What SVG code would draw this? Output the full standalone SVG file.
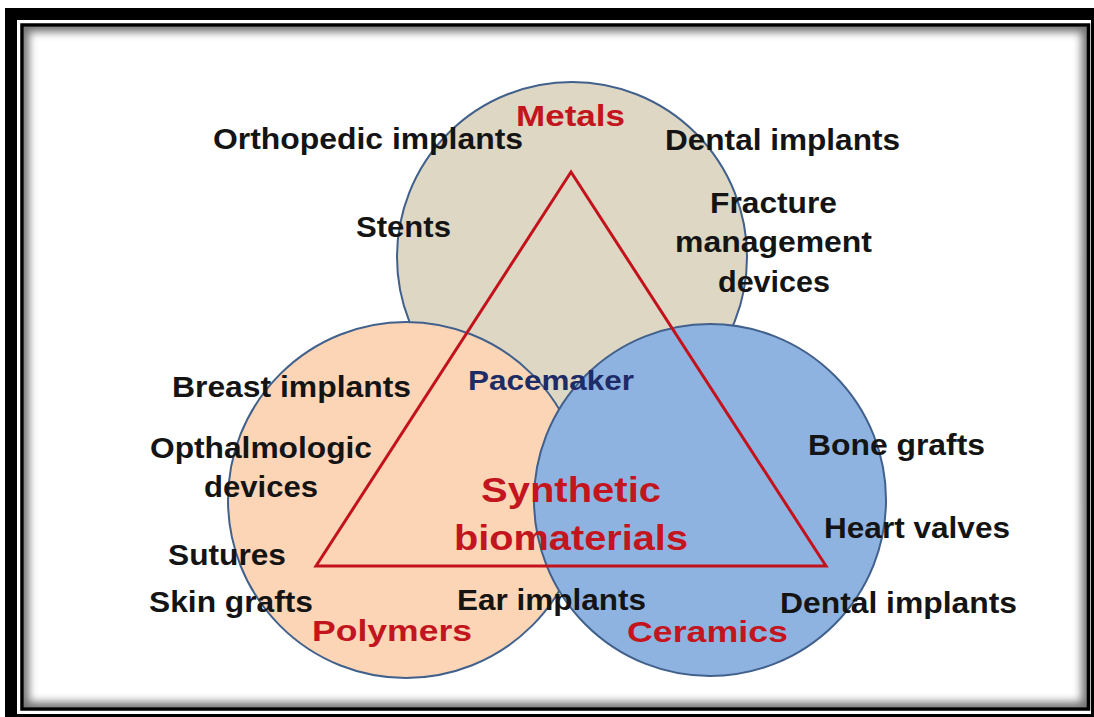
<svg xmlns="http://www.w3.org/2000/svg" width="1094" height="717" viewBox="0 0 1094 717">
<defs>
<style>
.t{font-family:"Liberation Sans",Arial,sans-serif;font-weight:bold;font-size:29px;fill:#141414}
.r{font-family:"Liberation Sans",Arial,sans-serif;font-weight:bold;font-size:30px;fill:#c3151d}
.big{font-size:35px}
.navy{fill:#1d2b66;font-size:28px}
.circ{stroke:#41618c;stroke-width:2}
</style>
<clipPath id="inner"><rect x="23.5" y="26.5" width="1063.5" height="681"/></clipPath>
<filter id="blur" x="-5%" y="-5%" width="110%" height="110%"><feGaussianBlur stdDeviation="4"/></filter>
</defs>
<rect x="0" y="0" width="1094" height="717" fill="#ffffff"/>
<!-- outer frame -->
<rect x="5" y="8" width="1200" height="800" fill="#000"/>
<rect x="17" y="20" width="1074" height="694" fill="#fff"/>
<rect x="22" y="25" width="1066.5" height="684" fill="#fff"/>
<g clip-path="url(#inner)">
<rect x="22" y="25" width="1066.5" height="684" fill="none" stroke="#000" stroke-width="14" opacity="0.55" filter="url(#blur)"/>
</g>
<rect x="22" y="25" width="1066.5" height="684" fill="none" stroke="#000" stroke-width="3.5"/>

<g id="metals"><circle class="circ" cx="572" cy="257" r="175" fill="#ddd7c4"/></g>
<g id="polymers"><circle class="circ" cx="406" cy="500" r="178" fill="#fbd5b6"/></g>
<g id="ceramics"><circle class="circ" cx="710" cy="500" r="176" fill="#8fb3e1"/></g>

<g id="connectors">
<polygon points="571,172 316,566 826,566" fill="none" stroke="#c3121c" stroke-width="3"/>
</g>

<g id="metals-labels">
<text class="r" x="516" y="126" textLength="109" lengthAdjust="spacingAndGlyphs">Metals</text>
<text class="t" x="213" y="149" textLength="310" lengthAdjust="spacingAndGlyphs">Orthopedic implants</text>
<text class="t" x="665" y="150" textLength="235" lengthAdjust="spacingAndGlyphs">Dental implants</text>
<text class="t" x="356" y="237" textLength="95" lengthAdjust="spacingAndGlyphs">Stents</text>
<text class="t" x="710" y="213" textLength="127" lengthAdjust="spacingAndGlyphs">Fracture</text>
<text class="t" x="675" y="252" textLength="197" lengthAdjust="spacingAndGlyphs">management</text>
<text class="t" x="718" y="292" textLength="112" lengthAdjust="spacingAndGlyphs">devices</text>
<text class="t navy" x="468" y="390" textLength="166" lengthAdjust="spacingAndGlyphs">Pacemaker</text>
</g>
<g id="polymers-labels">
<text class="t" x="172" y="397" textLength="239" lengthAdjust="spacingAndGlyphs">Breast implants</text>
<text class="t" x="150" y="458" textLength="222" lengthAdjust="spacingAndGlyphs">Opthalmologic</text>
<text class="t" x="204" y="497" textLength="114" lengthAdjust="spacingAndGlyphs">devices</text>
<text class="t" x="168" y="565" textLength="118" lengthAdjust="spacingAndGlyphs">Sutures</text>
<text class="t" x="149" y="612" textLength="164" lengthAdjust="spacingAndGlyphs">Skin grafts</text>
<text class="r" x="312" y="641" textLength="160" lengthAdjust="spacingAndGlyphs">Polymers</text>
<text class="t" x="457" y="610" textLength="189" lengthAdjust="spacingAndGlyphs">Ear implants</text>
</g>
<g id="ceramics-labels">
<text class="r" x="627" y="642" textLength="161" lengthAdjust="spacingAndGlyphs">Ceramics</text>
<text class="t" x="808" y="455" textLength="177" lengthAdjust="spacingAndGlyphs">Bone grafts</text>
<text class="t" x="824" y="538" textLength="186" lengthAdjust="spacingAndGlyphs">Heart valves</text>
<text class="t" x="780" y="613" textLength="237" lengthAdjust="spacingAndGlyphs">Dental implants</text>
</g>
<g id="center">
<text class="r big" x="481" y="502" textLength="180" lengthAdjust="spacingAndGlyphs">Synthetic</text>
<text class="r big" x="454" y="550" textLength="234" lengthAdjust="spacingAndGlyphs">biomaterials</text>
</g>
</svg>
